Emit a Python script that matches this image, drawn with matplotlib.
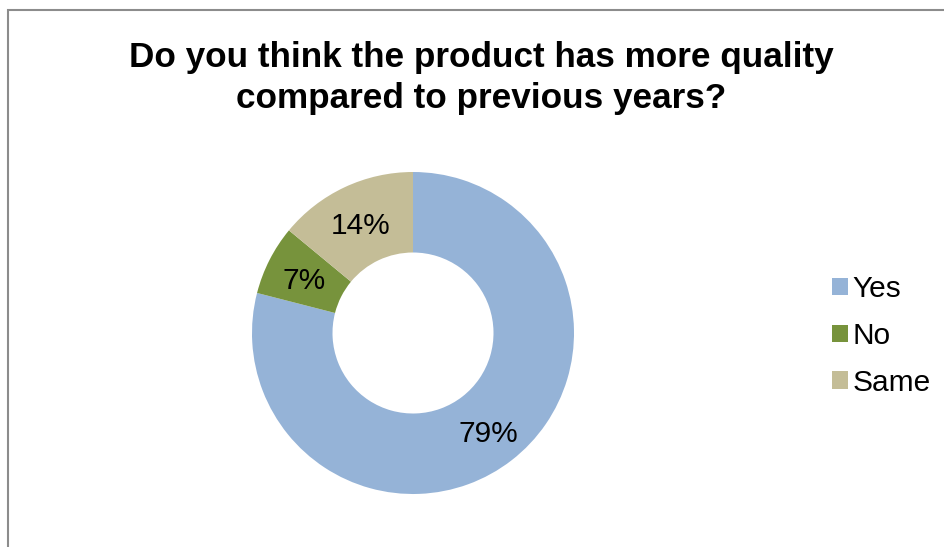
import matplotlib
matplotlib.use("Agg")
import matplotlib.pyplot as plt
import matplotlib.transforms as mtransforms
from matplotlib.patches import Patch, Rectangle

plt.rcParams['font.family'] = ['Liberation Sans', 'DejaVu Sans']

# data
labels = ["Yes", "No", "Same"]
shares = [79, 7, 14]
colors = ["#95B3D7", "#77933C", "#C4BD97"]
title = "Do you think the product has more quality\ncompared to previous years?"

W, H = 944, 547
fig = plt.figure(figsize=(W / 100, H / 100), dpi=100)

# chart frame (cut off at right and bottom in the reference)
fig.patches.append(Rectangle((8 / W, -0.05), 1.0, 1 - 10 / H + 0.05,
                             transform=fig.transFigure, fill=False,
                             edgecolor="#8c8c8c", linewidth=1.5))

# donut: centre (413, 333) px, outer radius 161 px
cx, cy, r = 413, 333, 161
ax = fig.add_axes([(cx - r) / W, (H - cy - r) / H, 2 * r / W, 2 * r / H])
wedges, texts = ax.pie(shares, colors=colors, startangle=90, counterclock=False,
                       radius=1.0, wedgeprops=dict(width=0.5, linewidth=0),
                       labels=[f"{v}%" for v in shares], labeldistance=0.76,
                       textprops=dict(fontsize=21.5, color="black"))
# labels sit a few px lower in the reference
shift = mtransforms.offset_copy(ax.transData, fig=fig, x=0, y=-4, units="dots")
for t in texts:
    t.set_ha("center")
    t.set_va("center")
    t.set_transform(shift)
ax.set_xlim(-1, 1)
ax.set_ylim(-1, 1)
ax.set_aspect("equal")
ax.axis("off")

fig.text(481 / W, 1 - 78 / H, title, ha="center", va="center",
         fontsize=25.3, fontweight="bold", linespacing=1.27)

handles = [Patch(facecolor=c, edgecolor="none") for c in colors]
fig.legend(handles, labels, loc="center left", bbox_to_anchor=(832 / W, 1 - 336 / H),
           frameon=False, fontsize=21.5, handlelength=0.53, handleheight=0.53,
           handletextpad=0.17, labelspacing=0.63, borderpad=0, borderaxespad=0)

fig.savefig("out.png", dpi=100)
